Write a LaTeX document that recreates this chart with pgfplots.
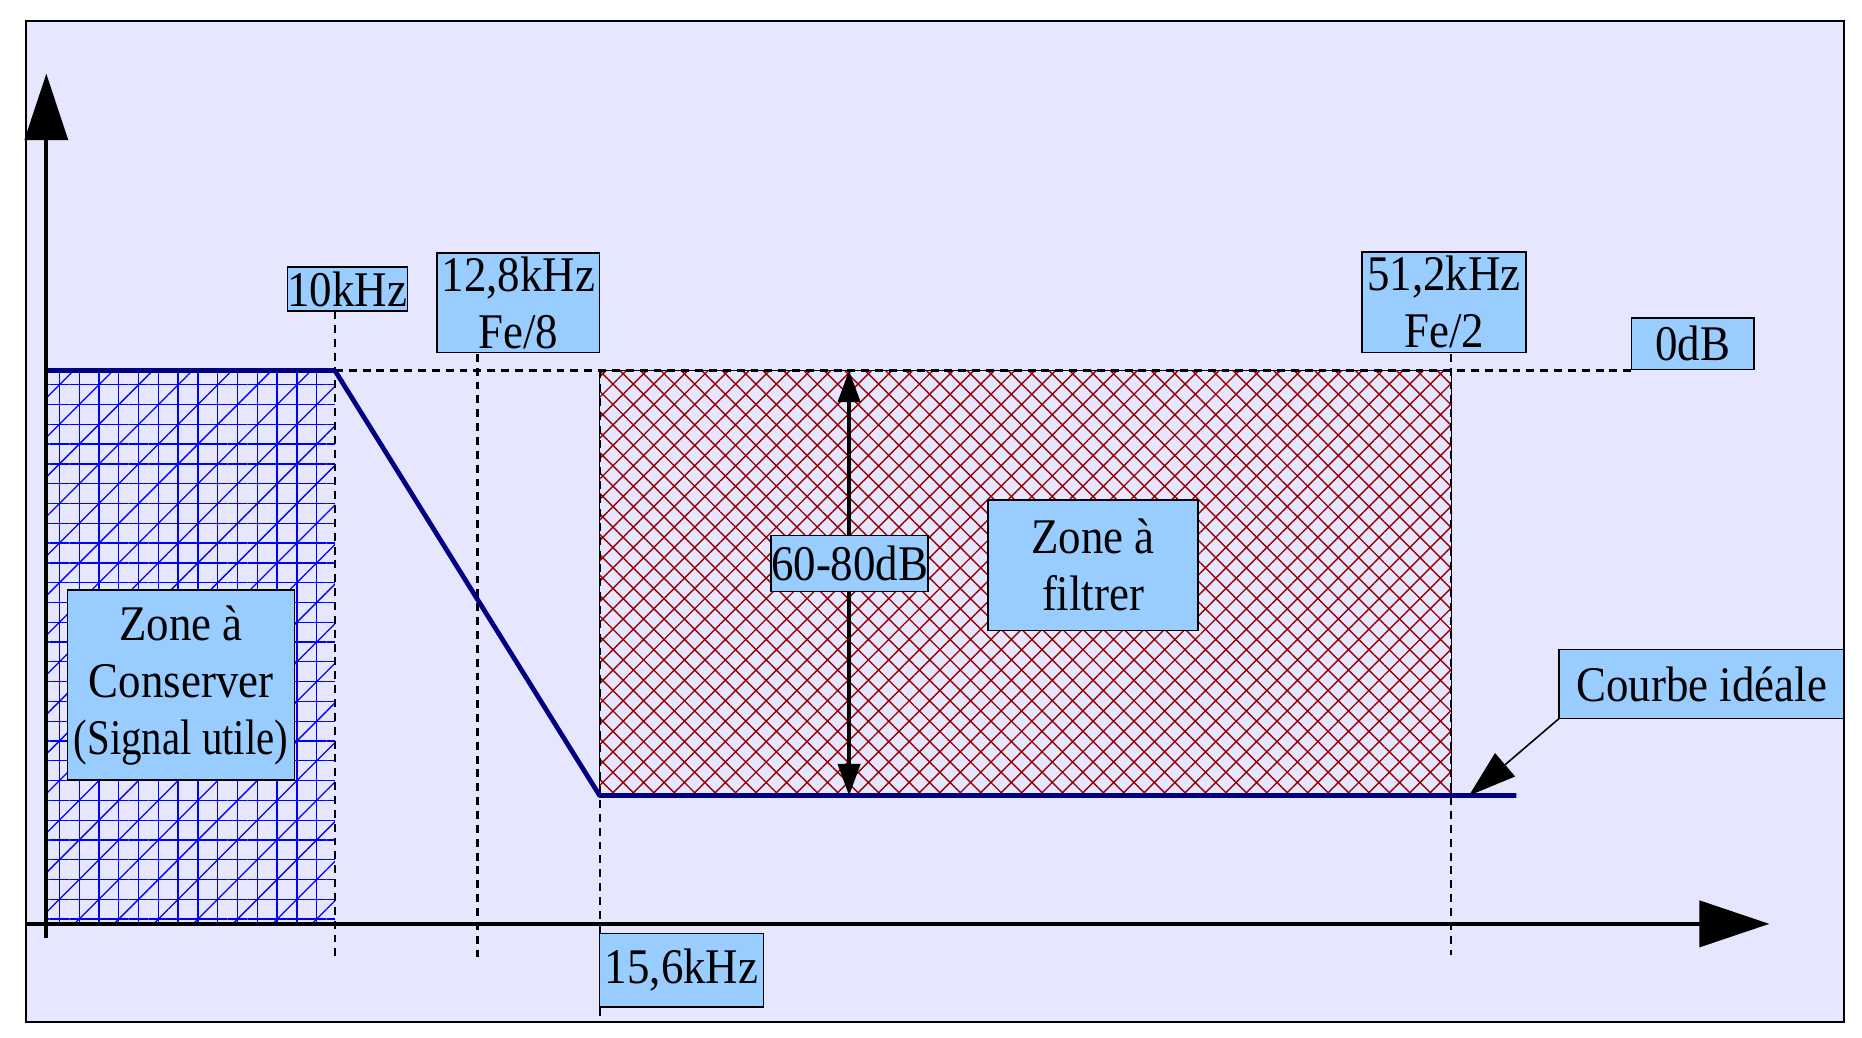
\documentclass[border=0pt]{standalone}
\usepackage{fontspec}
\setmainfont{Liberation Serif}[FakeStretch=0.9]
\usepackage{pgfplots}
\pgfplotsset{compat=1.18}
\usetikzlibrary{arrows.meta,patterns.meta}
\definecolor{bgcol}{RGB}{230,230,255}
\definecolor{boxcol}{RGB}{153,204,255}
\definecolor{navy}{RGB}{0,0,128}
\definecolor{hatchblue}{RGB}{0,0,255}
\definecolor{hatchred}{RGB}{153,0,0}
\tikzset{
  dsh/.style={black, line width=0.6pt, dash pattern=on 2pt off 1.5pt},
  lbl/.style={fill=boxcol, draw=black, line width=0.4pt, inner sep=0pt, align=center,
     font=\fontsize{12.6}{14.4}\selectfont},
}
\begin{document}
\begin{tikzpicture}
\begin{axis}[
  scale only axis, width=470.4pt, height=262.2pt,
  xmin=0, xmax=1568, ymin=-874, ymax=0,
  axis lines=none, clip=false,
]
% page background and frame
\addplot[fill=white, draw=none] coordinates {(0,0) (1568,0) (1568,-874) (0,-874)} -- cycle;
\addplot[fill=bgcol, draw=black, line width=0.5pt] coordinates {(22,-18) (1553,-18) (1553,-861) (22,-861)} -- cycle;
% zone a conserver (blue hatch)
\addplot[draw=none, pattern={Hatch[angle=0,distance=5pt,line width=0.33pt]}, pattern color=hatchblue]
  coordinates {(39,-312) (282,-312) (282,-778) (39,-778)} -- cycle;
\addplot[draw=none, pattern={Lines[angle=45,distance=7.07pt,line width=0.33pt]}, pattern color=hatchblue]
  coordinates {(39,-312) (282,-312) (282,-778) (39,-778)} -- cycle;
% zone a filtrer (red crosshatch)
\addplot[draw=black, line width=0.3pt, pattern={Hatch[angle=45,distance=3.65pt,line width=0.35pt]}, pattern color=hatchred]
  coordinates {(505,-312) (1222,-312) (1222,-670) (505,-670)} -- cycle;
% dashed guide lines
\addplot[dsh] coordinates {(282,-312) (1374,-312)};
\addplot[dsh] coordinates {(282,-262) (282,-808)};
\addplot[dsh] coordinates {(402,-298) (402,-806)};
\addplot[dsh] coordinates {(505,-312) (505,-858)};
\addplot[dsh] coordinates {(1222,-298) (1222,-804)};
% ideal curve
\addplot[navy, line width=1.2pt, line join=round] coordinates {(39,-312) (282,-312) (505,-670) (1277,-670)};
% axes
\addplot[black, line width=1.1pt, -{Triangle[length=16.8pt,width=10.8pt]}] coordinates {(39,-790) (39,-62)};
\addplot[black, line width=1.1pt, -{Triangle[length=17.7pt,width=11.6pt]}] coordinates {(22,-778) (1490,-778)};
% 60-80 dB double arrow
\addplot[black, line width=0.9pt, {Triangle[length=8pt,width=5.6pt]}-{Triangle[length=8pt,width=5.6pt]}] coordinates {(715,-312) (715,-670)};
% courbe ideale pointer
\addplot[black, line width=0.4pt, -{Triangle[length=12pt,width=7.7pt]}] coordinates {(1313,-605) (1237,-670)};
% labels
\node[lbl, minimum width=30.3pt, minimum height=11.1pt] at (axis cs:292.5,-243.5) {10kHz};
\node[lbl, minimum width=41.1pt, minimum height=25.2pt] at (axis cs:436.5,-255) {12,8kHz\\Fe/8};
\node[lbl, minimum width=41.4pt, minimum height=25.5pt] at (axis cs:1216,-254.5) {51,2kHz\\Fe/2};
\node[lbl, minimum width=30.9pt, minimum height=12.9pt] at (axis cs:1425.5,-289.5) {0dB};
\node[lbl, minimum width=39.3pt, minimum height=14.1pt] at (axis cs:715.5,-474.5) {60-80dB};
\node[lbl, minimum width=53.1pt, minimum height=33pt] at (axis cs:920.5,-476) {Zone à\\filtrer};
\node[lbl, minimum width=57.3pt, minimum height=48pt] at (axis cs:152.5,-577) {Zone à\\Conserver\\\scalebox{0.91}[1]{(Signal utile)}};
\node[lbl, minimum width=72pt, minimum height=17.4pt] at (axis cs:1433,-576) {Courbe idéale};
\node[lbl, minimum width=41.4pt, minimum height=18.6pt] at (axis cs:574,-817) {15,6kHz};
\end{axis}
\end{tikzpicture}
\end{document}
